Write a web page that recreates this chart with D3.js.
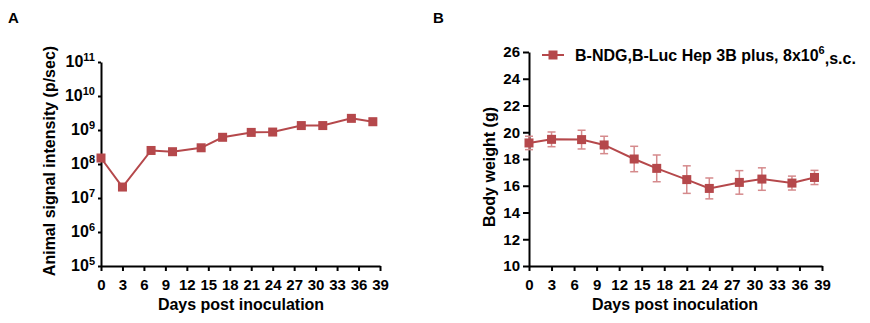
<!DOCTYPE html>
<html>
<head>
<meta charset="utf-8">
<script src="https://cdn.jsdelivr.net/npm/d3@7"></script>
<style>
body { margin: 0; background: #fff; }
svg text { font-family: "Liberation Sans", Arial, sans-serif; font-weight: bold; fill: #000; }
.axis path, .axis line { stroke: #000; stroke-width: 2px; }
.axis text { font-size: 15px; }
</style>
</head>
<body>
<svg id="chart" width="870" height="323"></svg>
<script>
// days of measurement (shared by both panels)
var days = [0, 3, 7, 10, 14, 17, 21, 24, 28, 31, 35, 38];

// panel A: bioluminescence signal (p/sec), with error range
var signal    = [1.5e8, 2.1e7, 2.5e8, 2.3e8, 3.0e8, 6.1e8, 8.5e8, 8.7e8, 1.35e9, 1.35e9, 2.2e9, 1.75e9];
var signalLo  = [1.3e8, 1.9e7, 2.3e8, 2.1e8, 2.7e8, 5.6e8, 7.8e8, 8.0e8, 1.25e9, 1.25e9, 2.0e9, 1.4e9];
var signalHi  = [1.7e8, 2.3e7, 2.7e8, 2.5e8, 3.3e8, 6.6e8, 9.2e8, 9.4e8, 1.45e9, 1.45e9, 2.4e9, 2.2e9];

// panel B: body weight (g) mean and SEM
var weight    = [19.2, 19.47, 19.45, 19.05, 18.0, 17.3, 16.46, 15.8, 16.25, 16.5, 16.2, 16.62];
var weightErr = [0.5, 0.55, 0.7, 0.65, 0.95, 1.0, 1.03, 0.78, 0.88, 0.84, 0.52, 0.53];

var xTicks = d3.range(0, 40, 3);
var logTicks = [1e5, 1e6, 1e7, 1e8, 1e9, 1e10, 1e11];
var weightTicks = d3.range(10, 27, 2);
var legendLabel = "B-NDG,B-Luc Hep 3B plus, 8x10";

var color = "#b5484b";
var errColor = "#d58a8c";

var svg = d3.select("#chart");

function supLabel(sel, base, exp) {
  sel.text(null);
  sel.append("tspan").attr("font-size", "16px").text(base);
  sel.append("tspan").attr("dy", "-0.6em").attr("font-size", "11px").text(exp);
}

function series(g, x, y, vals, lo, hi) {
  var pts = days.map(function(d, i) { return {x: d, y: vals[i], lo: lo[i], hi: hi[i]}; });

  var eb = g.append("g").attr("stroke", errColor).attr("stroke-width", 1.5);
  pts.forEach(function(p) {
    eb.append("line").attr("x1", x(p.x)).attr("x2", x(p.x)).attr("y1", y(p.lo)).attr("y2", y(p.hi));
    eb.append("line").attr("x1", x(p.x) - 4).attr("x2", x(p.x) + 4).attr("y1", y(p.lo)).attr("y2", y(p.lo));
    eb.append("line").attr("x1", x(p.x) - 4).attr("x2", x(p.x) + 4).attr("y1", y(p.hi)).attr("y2", y(p.hi));
  });

  g.append("path")
    .datum(pts)
    .attr("fill", "none")
    .attr("stroke", color)
    .attr("stroke-width", 2)
    .attr("d", d3.line().x(function(d) { return x(d.x); }).y(function(d) { return y(d.y); }));

  g.selectAll("rect.pt")
    .data(pts)
    .enter().append("rect")
    .attr("class", "pt")
    .attr("x", function(d) { return x(d.x) - 4.5; })
    .attr("y", function(d) { return y(d.y) - 4.5; })
    .attr("width", 9)
    .attr("height", 9)
    .attr("fill", color);
}

/// Panel A
var xA = d3.scaleLinear().domain([0, 39]).range([101, 380]);
var yA = d3.scaleLog().domain([1e5, 1e11]).range([266, 62]);

svg.append("text").attr("x", 8).attr("y", 23).attr("font-size", "15px").text("A");

svg.append("g")
  .attr("class", "axis")
  .attr("transform", "translate(0,266)")
  .call(d3.axisBottom(xA).tickValues(xTicks).tickSize(5).tickSizeOuter(0).tickPadding(5))
  .selectAll("text").attr("dy", "0.9em");

var axA = svg.append("g")
  .attr("class", "axis")
  .attr("transform", "translate(101,0)")
  .call(d3.axisLeft(yA).tickValues(logTicks).tickSize(3).tickSizeOuter(0).tickPadding(3));
axA.selectAll(".tick text").each(function(d) {
  supLabel(d3.select(this), "10", Math.round(Math.log10(d)));
});

svg.append("text")
  .attr("transform", "translate(55,161) rotate(-90)")
  .attr("text-anchor", "middle")
  .attr("font-size", "16px")
  .text("Animal signal intensity (p/sec)");

svg.append("text")
  .attr("x", 241).attr("y", 310)
  .attr("text-anchor", "middle")
  .attr("font-size", "16px")
  .text("Days post inoculation");

series(svg.append("g"), xA, yA, signal, signalLo, signalHi);

/// Panel B
var xB = d3.scaleLinear().domain([0, 39]).range([529, 822]);
var yB = d3.scaleLinear().domain([10, 26]).range([266, 52]);

svg.append("text").attr("x", 433).attr("y", 23).attr("font-size", "15px").text("B");

svg.append("g")
  .attr("class", "axis")
  .attr("transform", "translate(0,266)")
  .call(d3.axisBottom(xB).tickValues(xTicks).tickSize(5).tickSizeOuter(0).tickPadding(5))
  .selectAll("text").attr("dy", "0.9em");

svg.append("g")
  .attr("class", "axis")
  .attr("transform", "translate(529,0)")
  .call(d3.axisLeft(yB).tickValues(weightTicks).tickSize(6).tickSizeOuter(0).tickPadding(3));

svg.append("text")
  .attr("transform", "translate(495,167) rotate(-90)")
  .attr("text-anchor", "middle")
  .attr("font-size", "16px")
  .text("Body weight (g)");

svg.append("text")
  .attr("x", 675).attr("y", 310)
  .attr("text-anchor", "middle")
  .attr("font-size", "16px")
  .text("Days post inoculation");

series(svg.append("g"), xB, yB, weight,
  weight.map(function(w, i) { return w - weightErr[i]; }),
  weight.map(function(w, i) { return w + weightErr[i]; }));

// legend
var lg = svg.append("g").attr("transform", "translate(553,55)");
lg.append("line").attr("x1", -11).attr("x2", 11).attr("stroke", color).attr("stroke-width", 2);
lg.append("rect").attr("x", -4.5).attr("y", -4.5).attr("width", 9).attr("height", 9).attr("fill", color);
var lt = lg.append("text").attr("x", 22).attr("y", 6).attr("font-size", "16px");
lt.append("tspan").text(legendLabel);
lt.append("tspan").attr("dy", "-0.6em").attr("font-size", "11px").text("6");
lt.append("tspan").attr("dy", "0.6em").text(",s.c.");
</script>
</body>
</html>
